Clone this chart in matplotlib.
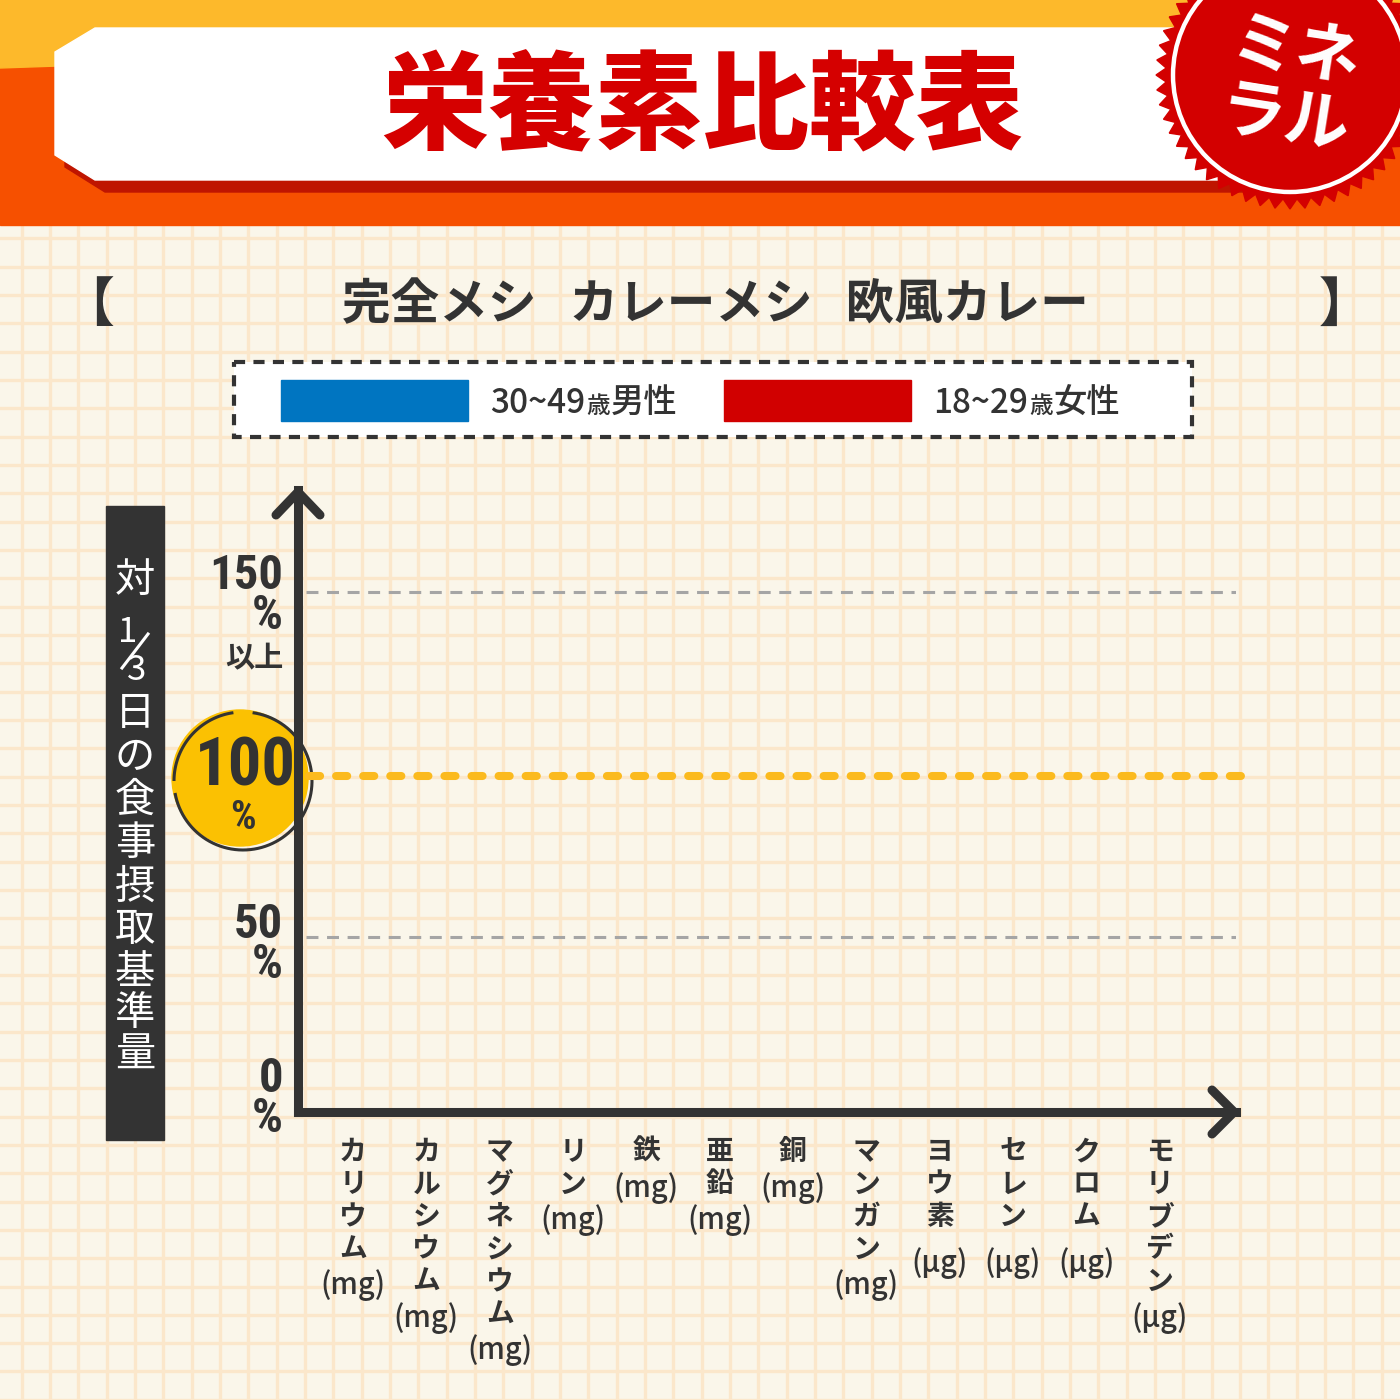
import numpy as np
import matplotlib
matplotlib.use("Agg")
import matplotlib.pyplot as plt
from matplotlib.patches import Polygon, Rectangle, Circle

plt.rcParams["lines.scale_dashes"] = False

# ---------------- data ----------------
title = "栄養素比較表"
badge_lines = ["ミネ", "ラル"]
subtitle = "完全メシ   カレーメシ   欧風カレー"
categories = ["カリウム", "カルシウム", "マグネシウム", "リン", "鉄", "亜鉛", "銅",
              "マンガン", "ヨウ素", "セレン", "クロム", "モリブデン"]
units = ["mg", "mg", "mg", "mg", "mg", "mg", "mg", "mg", "μg", "μg", "μg", "μg"]
series_names = ["30~49歳男性", "18~29歳女性"]
series_colors = ["#0075C1", "#D10000"]
male_values = []      # the reference chart shows no bars
female_values = []
ytick_values = [0, 50, 100, 150]
ytick_numbers = ["0", "50", "100", "150"]
ytick_units = ["%", "%", "%", "%"]
ytick_notes = ["", "", "", "以上"]
reference_value = 100
ylabel_text = "対1/3日の食事摂取基準量"

# ---------------- style ----------------
CJK = ["Noto Sans CJK JP", "DejaVu Sans"]
NUM = ["Roboto Condensed", "Liberation Sans Narrow", "DejaVu Sans"]
DARK = "#333333"
BG = "#FAF6EA"
GRID = "#FBE7CB"

fig = plt.figure(figsize=(14, 14), dpi=100)
fig.patch.set_facecolor(BG)
bg = fig.add_axes([0, 0, 1, 1])
bg.set_xlim(0, 1400)
bg.set_ylim(1400, 0)
bg.axis("off")
bg.set_zorder(0)

# background grid paper
for gx in np.arange(21.7, 1400, 28.33):
    bg.plot([gx, gx], [225, 1400], color=GRID, lw=2.4, zorder=0)
for gy in np.arange(238.3, 1400, 28.33):
    bg.plot([0, 1400], [gy, gy], color=GRID, lw=2.4, zorder=0)

# ---------------- header ----------------
bg.add_patch(Rectangle((0, 0), 1400, 225, color="#F65000", zorder=1))
bg.add_patch(Polygon([(0, 0), (1400, 0), (1400, 20), (0, 68)], closed=True,
                     color="#FDB92B", zorder=1))
box = np.array([(95, 28), (1240, 28), (1240, 180), (95, 180), (55, 155), (55, 52)])
bg.add_patch(Polygon(box + [10, 12], closed=True, color="#BF1500", zorder=2))
bg.add_patch(Polygon(box, closed=True, color="white", zorder=3))
bg.text(702, 110, title, family=CJK, weight="heavy", fontsize=77, color="#D50000",
        ha="center", va="center", zorder=4)

# badge with zigzag edge
bcx, bcy = 1290, 75
n_teeth = 56
ang = np.linspace(0, 2 * np.pi, 2 * n_teeth, endpoint=False)
rad = np.where(np.arange(2 * n_teeth) % 2 == 0, 134, 124)
bg.add_patch(Polygon(np.c_[bcx + rad * np.cos(ang), bcy + rad * np.sin(ang)],
                     closed=True, color="#D30000", zorder=5))
bg.add_patch(Circle((bcx, bcy), 117, fill=False, ec="white", lw=3.2, zorder=6))
bg.text(1296, 53, badge_lines[0], family=CJK, weight="bold", fontsize=47, color="white",
        ha="center", va="center", rotation=-9, zorder=7)
bg.text(1285, 120, badge_lines[1], family=CJK, weight="bold", fontsize=47, color="white",
        ha="center", va="center", rotation=-9, zorder=7)

# ---------------- subtitle ----------------
bg.text(715, 305, subtitle, family=CJK, weight="bold", fontsize=35, color=DARK,
        ha="center", va="center", zorder=4)
bg.text(88, 305, "【", family=CJK, weight="bold", fontsize=38, color=DARK,
        ha="center", va="center", zorder=4)
bg.text(1345, 305, "】", family=CJK, weight="bold", fontsize=38, color=DARK,
        ha="center", va="center", zorder=4)

# ---------------- legend ----------------
bg.add_patch(Rectangle((234, 362), 958, 75, facecolor="white", edgecolor=DARK, lw=3,
                       ls=(0, (8, 6)), zorder=3))
fig.canvas.draw()
renderer = fig.canvas.get_renderer()
leg_x = [281, 724]
for name, col, x0 in zip(series_names, series_colors, leg_x):
    bg.add_patch(Rectangle((x0, 380), 187, 41, color=col, zorder=4))
    pre, post = name.split("歳")
    x = x0 + 209
    for piece, fs in [(pre, 24), ("歳", 17), (post, 24)]:
        t = bg.text(x, 413, piece, family=CJK, weight="medium", fontsize=fs, color=DARK,
                    ha="left", va="baseline", zorder=4)
        x = t.get_window_extent(renderer).x1 + 1

# ---------------- y label box ----------------
bg.add_patch(Rectangle((106, 506), 58, 634, color=DARK, zorder=2))
ylab_chars = [c for c in ylabel_text.replace("1/3", "")]
ylab_y = [580, 713, 757, 800, 843, 887, 930, 973, 1013, 1055]
for ch, yy in zip(ylab_chars, ylab_y):
    bg.text(135, yy, ch, family=CJK, fontsize=29, color="white", ha="center",
            va="center", zorder=3)
bg.text(128, 632, "1", family=CJK, fontsize=25, color="white", ha="center", va="center", zorder=3)
bg.plot([122, 148], [668, 634], color="white", lw=2.2, zorder=3)
bg.text(137, 670, "3", family=CJK, fontsize=25, color="white", ha="center", va="center", zorder=3)

# ---------------- chart axes ----------------
ax_l, ax_r, ax_b, ax_t = 298, 1236, 1112, 490
cax = fig.add_axes([ax_l / 1400, 1 - ax_b / 1400, (ax_r - ax_l) / 1400, (ax_b - ax_t) / 1400])
cax.set_zorder(2)
cax.patch.set_alpha(0)

scale_v = [0, 50, 100, 150, 180]
scale_p = [0, 175, 336, 520, 622]
cax.set_yscale("function", functions=(lambda v: np.interp(v, scale_v, scale_p),
                                      lambda p: np.interp(p, scale_p, scale_v)))
cax.set_ylim(0, 180)
xpos = np.arange(len(categories))
cax.set_xlim(-0.75, len(categories) - 1 + 1.04)

# bars (none in the reference)
bw = 0.35
if len(male_values):
    cax.bar(xpos - bw / 2, male_values, bw, color=series_colors[0])
if len(female_values):
    cax.bar(xpos + bw / 2, female_values, bw, color=series_colors[1])

for s in ["top", "right"]:
    cax.spines[s].set_visible(False)
for s in ["left", "bottom"]:
    cax.spines[s].set_linewidth(6.5)
    cax.spines[s].set_color(DARK)
    cax.spines[s].set_capstyle("projecting")
cax.set_xticks(xpos)
cax.set_xticklabels([])
cax.set_yticks(ytick_values)
cax.set_yticklabels([])
cax.tick_params(length=0)

for v in ytick_values[1:]:
    if v == reference_value:
        cax.axhline(v, xmin=0.012, xmax=1.005, color="#FBBA1E", lw=5.8,
                    dashes=(8, 11.5), dash_capstyle="round", clip_on=False, zorder=3)
    else:
        cax.axhline(v, xmin=0.008, xmax=1.0, color="#A5A5A5", lw=2.2,
                    dashes=(8.6, 6.2), zorder=2)

# arrows heads
tx, ty = cax.transAxes.transform((0, 1))
ty = 1400 - ty
bg.plot([tx - 22, tx, tx + 22], [ty + 25, ty + 2, ty + 25], color=DARK, lw=6.5,
        solid_capstyle="round", solid_joinstyle="round", zorder=5)
rx, ry = cax.transAxes.transform((1, 0))
ry = 1400 - ry
bg.plot([rx - 24, rx - 2, rx - 24], [ry - 22, ry, ry + 22], color=DARK, lw=6.5,
        solid_capstyle="round", solid_joinstyle="round", zorder=5)

# x category labels, written vertically
xt = cax.get_xaxis_transform()
for i, (cat, unit) in enumerate(zip(categories, units)):
    for k, ch in enumerate(cat):
        cax.annotate(ch, xy=(i, 0), xycoords=xt, xytext=(0, -(40 + 32.5 * k)),
                     textcoords="offset pixels", ha="center", va="center",
                     family=CJK, weight="bold", fontsize=20, color=DARK,
                     annotation_clip=False)
    gap = 46 if (unit == "μg" and len(cat) < 5) else 36
    cax.annotate(f"({unit})", xy=(i, 0), xycoords=xt,
                 xytext=(0, -(40 + 32.5 * (len(cat) - 1) + gap)),
                 textcoords="offset pixels", ha="center", va="center",
                 family=CJK, weight="medium", fontsize=21, color=DARK,
                 annotation_clip=False)

# y tick labels: number and % stacked in one text
yt = cax.get_yaxis_transform()
block_off = {0: 13, 50: -8, 150: -4}
for v, num, un, note in zip(ytick_values, ytick_numbers, ytick_units, ytick_notes):
    if v == reference_value:
        continue
    cax.annotate(f"{num}\n{un}", xy=(0, v), xycoords=yt, xytext=(-15, block_off[v]),
                 textcoords="offset pixels", ha="right", va="center", multialignment="right",
                 linespacing=0.82, family=NUM, weight="bold", fontsize=35, color=DARK,
                 annotation_clip=False)
    if note:
        cax.annotate(note, xy=(0, v), xycoords=yt, xytext=(-15, -66),
                     textcoords="offset pixels", ha="right", va="center",
                     family=CJK, weight="bold", fontsize=21, color=DARK, annotation_clip=False)

# 100% badge
px, py = cax.transData.transform((0, reference_value))
py = 1400 - py
ccx, ccy = ax_l - 58, py + 2
bg.add_patch(Circle((ccx, ccy), 68, color="#FBC102", zorder=3))
for t0, t1 in [(98, 180), (190, 442)]:
    th = np.radians(np.linspace(t0, t1, 80))
    bg.plot(ccx + 3 + 69 * np.cos(th), ccy + 3 - 69 * np.sin(th), color=DARK, lw=2.2,
            solid_capstyle="butt", zorder=4)
idx = ytick_values.index(reference_value)
bg.text(ccx + 5, ccy - 11, ytick_numbers[idx], family=NUM, weight="heavy", fontsize=48,
        color=DARK, ha="center", va="center", zorder=5)
bg.text(ccx + 3, ccy + 40, ytick_units[idx], family=NUM, weight="bold", fontsize=29,
        color=DARK, ha="center", va="center", zorder=5)

fig.savefig("out.png", dpi=100, facecolor=BG)
